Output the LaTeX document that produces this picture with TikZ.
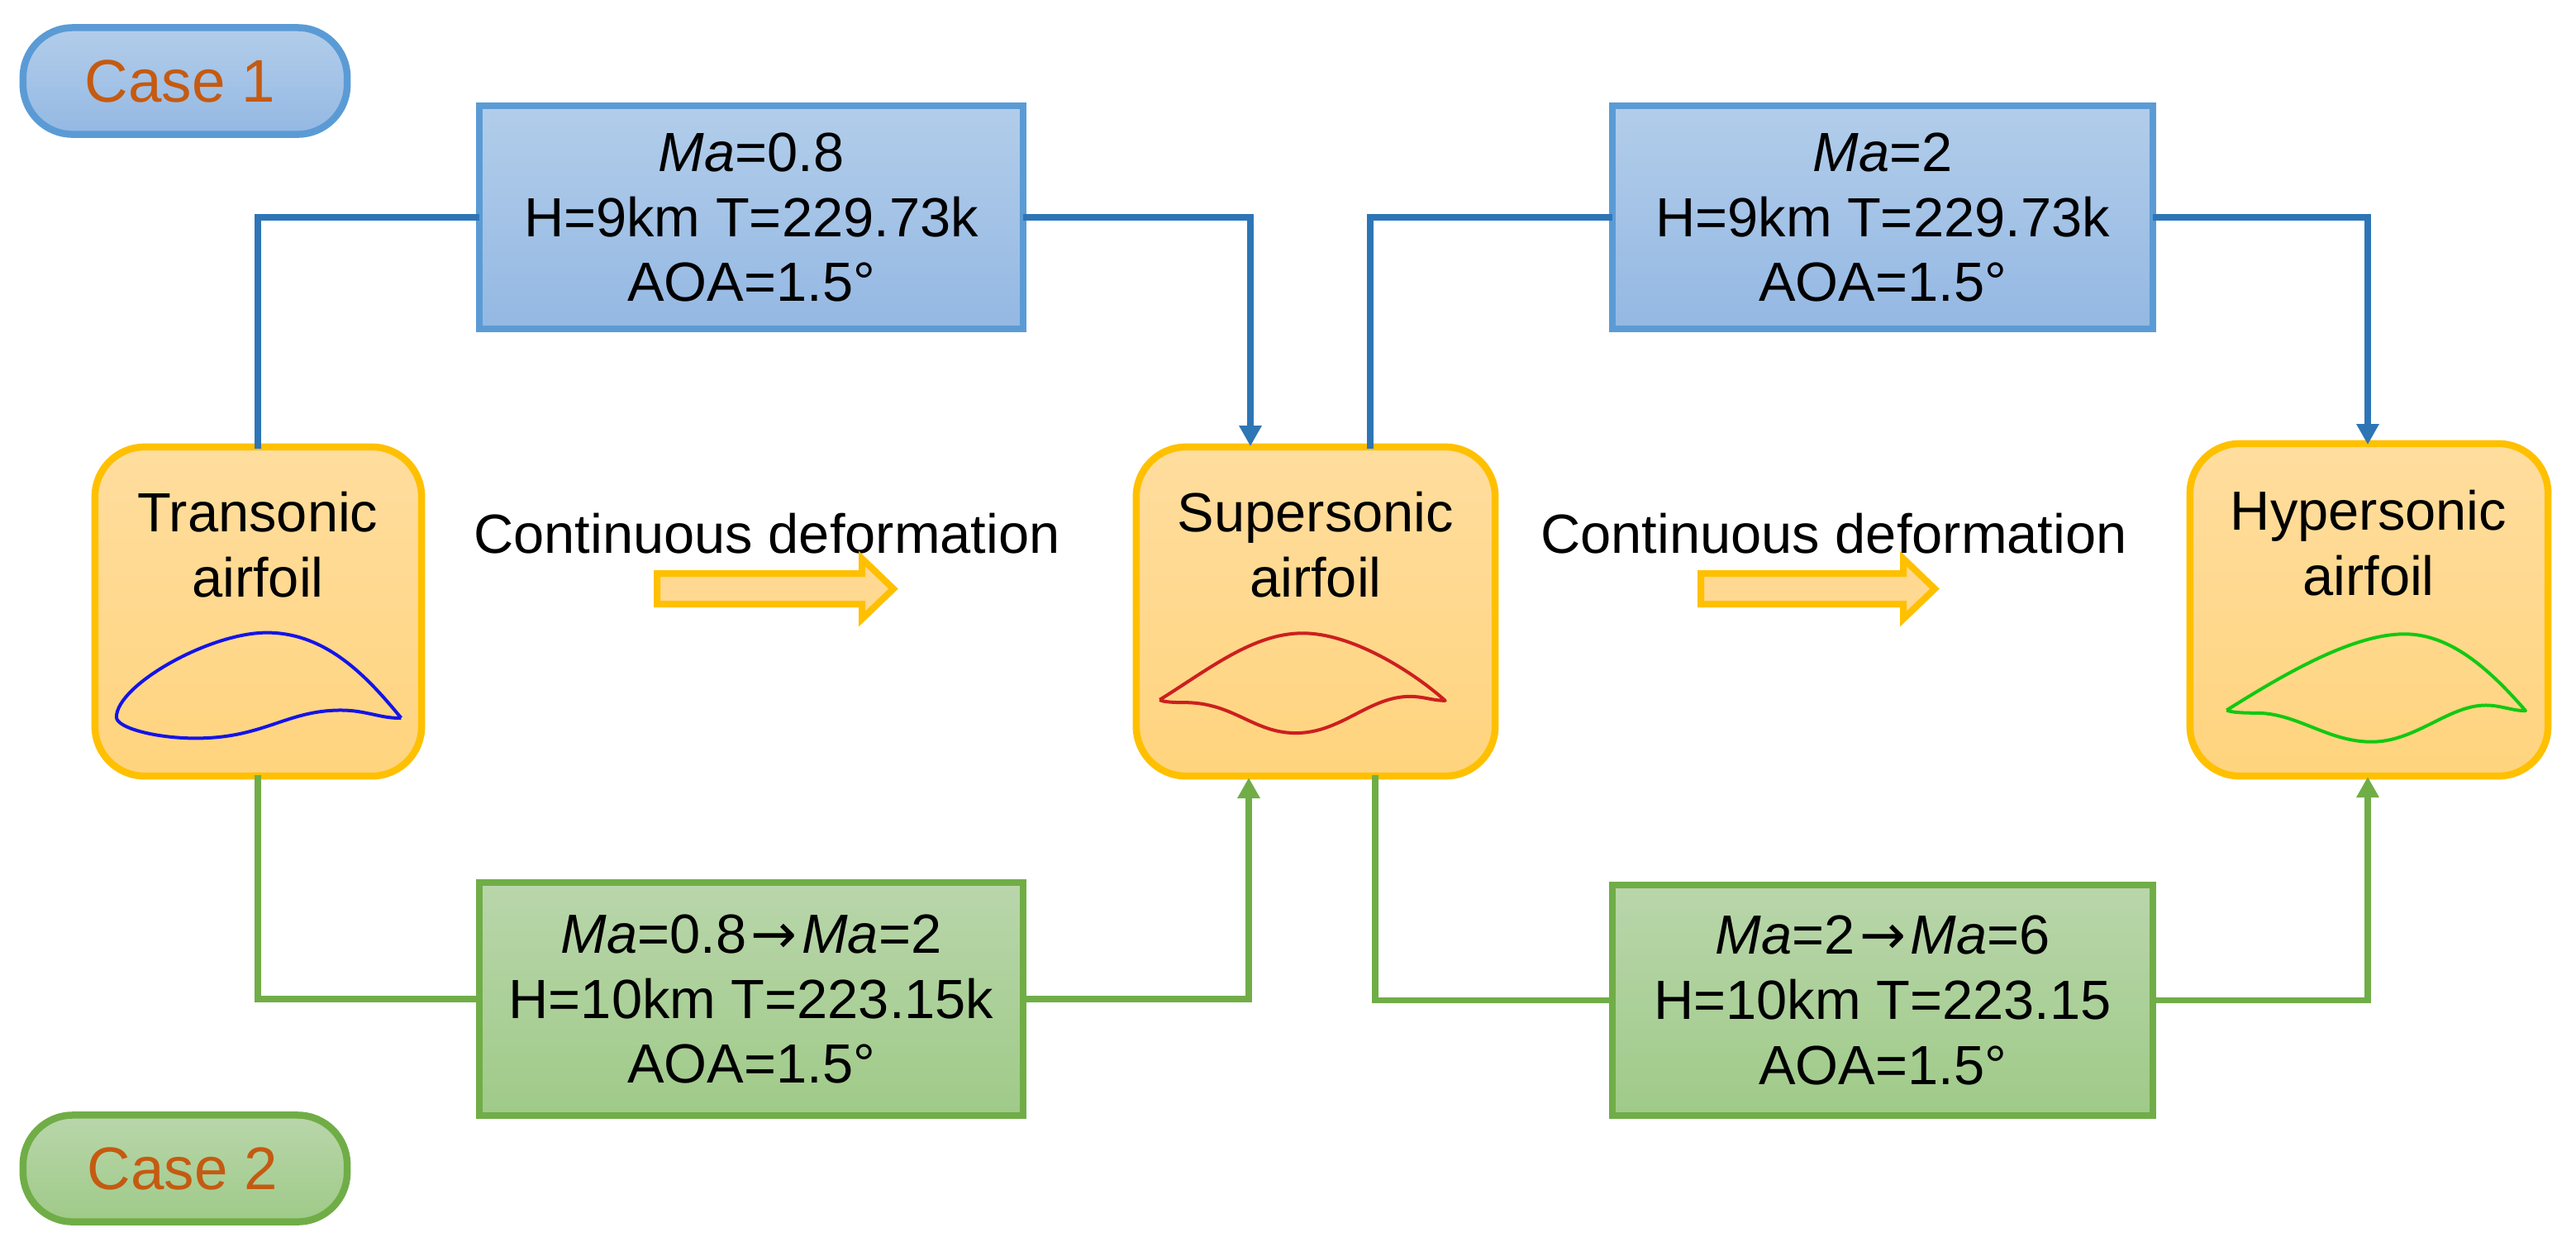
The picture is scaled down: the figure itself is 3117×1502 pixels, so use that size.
\documentclass[tikz,border=0pt]{standalone}
\usepackage{fontspec}
\setmainfont{Liberation Sans}
\newfontfamily\arrowfont{DejaVu Sans}
\newcommand{\longarr}{\kern0.08em{\arrowfont →}\kern0.08em}
\usetikzlibrary{arrows.meta}
\definecolor{bluetop}{HTML}{B2CDEA}
\definecolor{bluebot}{HTML}{94B8E3}
\definecolor{blueedge}{HTML}{5B9BD5}
\definecolor{blueline}{HTML}{2E75B6}
\definecolor{greentop}{HTML}{B9D6AB}
\definecolor{greenbot}{HTML}{9FCA88}
\definecolor{greenedge}{HTML}{70AD47}
\definecolor{orangetop}{HTML}{FFDD9E}
\definecolor{orangebot}{HTML}{FFD47E}
\definecolor{orangeedge}{HTML}{FFC000}
\definecolor{casetext}{HTML}{C55A11}
\definecolor{foilblue}{HTML}{1414E6}
\definecolor{foilred}{HTML}{CC1F1F}
\definecolor{foilgreen}{HTML}{12C812}
\tikzset{
  x=0.01cm,y=-0.01cm,
  txt/.style={font=\fontsize{19}{22.4}\selectfont,align=center,inner sep=0pt,text=black},
  basebox/.style={draw,line width=0.085cm,inner sep=0pt,outer sep=0pt,align=center,font=\fontsize{19}{22.4}\selectfont},
  bluefill/.style={basebox,draw=blueedge,top color=bluetop,bottom color=bluebot},
  greenfill/.style={basebox,draw=greenedge,top color=greentop,bottom color=greenbot},
  casebox/.style={rounded corners=0.6cm,minimum width=3.92cm,minimum height=1.29cm,text=casetext,font=\fontsize{20.7}{24}\selectfont},
  airbox/.style={basebox,draw=orangeedge,top color=orangetop,bottom color=orangebot,rounded corners=0.6cm},
  bluewire/.style={draw=blueline,line width=0.075cm},
  greenwire/.style={draw=greenedge,line width=0.075cm},
  bluearrow/.style={bluewire,-{Triangle[width=0.26cm,length=0.25cm]}},
  greenarrow/.style={greenwire,-{Triangle[width=0.26cm,length=0.25cm]}},
  foil/.style={line width=0.04cm,line join=round},
  deform/.style={draw=orangeedge,fill=orangetop!60!orangebot,line width=0.08cm,miter limit=10},
}
\begin{document}
\begin{tikzpicture}
\useasboundingbox (0,0) rectangle (3117,1502);
% cases
\node[bluefill,casebox] (case1) at (224,98) {Case 1\kern0.12cm};
\node[greenfill,casebox] (case2) at (224,1414) {Case 2\kern0.06cm};
% airfoil boxes
\node[airbox,minimum width=3.95cm,minimum height=3.98cm] (tr) at (312.5,740) {};
\node[airbox,minimum width=4.34cm,minimum height=3.98cm] (su) at (1592,740) {};
\node[airbox,minimum width=4.33cm,minimum height=4.02cm] (hy) at (2866.5,738) {};
\node[txt] (trtext) at (312,659) {Transonic\\airfoil};
\node[txt] (sutext) at (1592,659) {Supersonic\\airfoil};
\node[txt] (hytext) at (2866,657) {Hypersonic\\airfoil};
% condition boxes
\node[bluefill,minimum width=6.58cm,minimum height=2.70cm] (b1) at (909,263) {\textit{Ma}=0.8\\H=9km T=229.73k\\AOA=1.5°};
\node[bluefill,minimum width=6.54cm,minimum height=2.70cm] (b2) at (2278,263) {\textit{Ma}=2\\H=9km T=229.73k\\AOA=1.5°};
\node[greenfill,minimum width=6.58cm,minimum height=2.82cm] (g1) at (909,1209) {\textit{Ma}=0.8\longarr\textit{Ma}=2\\H=10km T=223.15k\\AOA=1.5°};
\node[greenfill,minimum width=6.54cm,minimum height=2.79cm] (g2) at (2278,1210.5) {\textit{Ma}=2\longarr\textit{Ma}=6\\H=10km T=223.15\\AOA=1.5°};
% ports
\coordinate (trT) at (312,543);
\coordinate (trB) at (312,938);
\coordinate (suTin) at (1513,540);
\coordinate (suTout) at (1658,543);
\coordinate (suBin) at (1511,941);
\coordinate (suBout) at (1664,938);
\coordinate (hyTin) at (2865,538);
\coordinate (hyBin) at (2865,940);
% connectors
\draw[bluewire] (trT) |- (b1.west);
\draw[bluearrow] (b1.east) -| (suTin);
\draw[bluewire] (suTout) |- (b2.west);
\draw[bluearrow] (b2.east) -| (hyTin);
\draw[greenwire] (trB) |- (g1.west);
\draw[greenarrow] (g1.east) -| (suBin);
\draw[greenwire] (suBout) |- (g2.west);
\draw[greenarrow] (g2.east) -| (hyBin);
% deformation labels
\node[txt] (d1) at (928,646) {Continuous deformation};
\node[txt] (d2) at (2219,646) {Continuous deformation};
\draw[deform] (795,694) -- (1043,694) -- (1043,676) -- (1081,712.5) -- (1043,749) -- (1043,731) -- (795,731) -- cycle;
\draw[deform] (2058,694) -- (2303,694) -- (2303,676) -- (2341,712.5) -- (2303,749) -- (2303,731) -- (2058,731) -- cycle;
% airfoils
\begin{scope}[shift={(80,520)},x=0.003333cm,y=-0.003333cm]
\draw[foil,draw=foilblue] (1218,1048) .. controls (1100,905) and (950,738) .. (730,738)
  .. controls (520,738) and (183,930) .. (183,1045)
  .. controls (183,1085) and (330,1122) .. (470,1122)
  .. controls (720,1122) and (800,1020) .. (1000,1020)
  .. controls (1090,1020) and (1150,1052) .. (1218,1048);
\end{scope}
\begin{scope}[shift={(1360,520)},x=0.003333cm,y=-0.003333cm]
\draw[foil,draw=foilred] (130,982) .. controls (310,870) and (470,740) .. (650,740)
  .. controls (830,740) and (1050,880) .. (1168,985)
  .. controls (1120,985) and (1090,970) .. (1040,970)
  .. controls (890,970) and (790,1103) .. (625,1103)
  .. controls (470,1103) and (400,992) .. (220,992)
  .. controls (180,992) and (140,990) .. (130,982);
\end{scope}
\begin{scope}[shift={(2630,520)},x=0.003333cm,y=-0.003333cm]
\draw[foil,draw=foilgreen] (193,1020) .. controls (400,890) and (650,743) .. (840,743)
  .. controls (1000,743) and (1140,860) .. (1280,1022)
  .. controls (1230,1022) and (1190,1002) .. (1135,1002)
  .. controls (1000,1002) and (880,1135) .. (720,1135)
  .. controls (560,1135) and (450,1030) .. (300,1030)
  .. controls (250,1030) and (210,1028) .. (193,1020);
\end{scope}
\end{tikzpicture}
\end{document}
